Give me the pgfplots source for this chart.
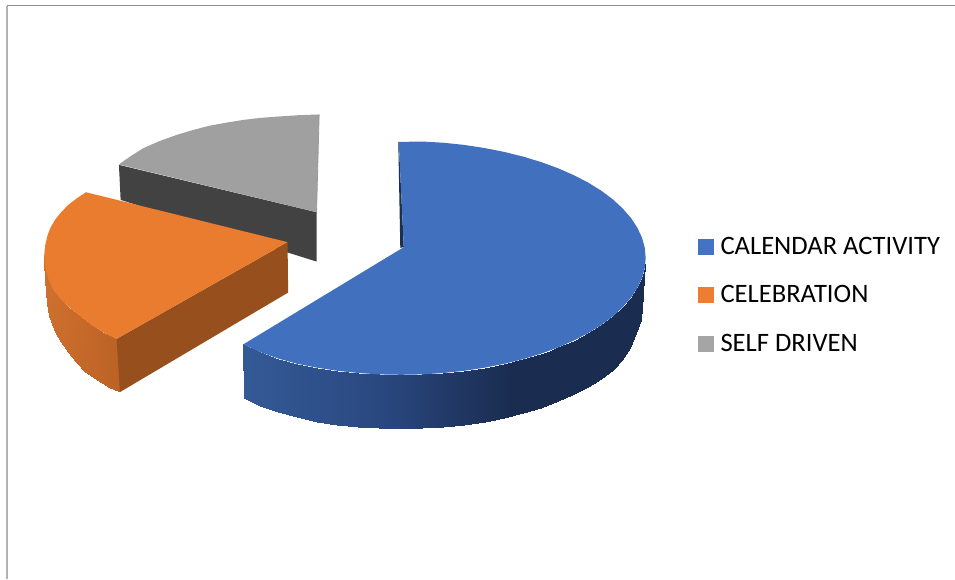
\documentclass[border=0pt]{standalone}
\usepackage{pgfplots}
\pgfplotsset{compat=1.18}
\usepackage{fontspec}
\setmainfont{Carlito}
\definecolor{blueT}{HTML}{4170BF}
\definecolor{orangeT}{HTML}{EA7C30}
\definecolor{grayT}{HTML}{A0A0A0}
\definecolor{grayD}{HTML}{424242}
\definecolor{orangeD}{HTML}{964F1D}
\definecolor{blueD}{HTML}{1B3050}
\definecolor{legB}{HTML}{4472C4}
\definecolor{legO}{HTML}{ED7D31}
\definecolor{legG}{HTML}{A5A5A5}
\begin{document}
\begin{tikzpicture}
\begin{axis}[
  scale only axis, width=955pt, height=579pt,
  xmin=0, xmax=955, ymin=0, ymax=579, y dir=reverse,
  hide axis, clip=false,
  point meta min=0, point meta max=1200,
  colormap={pie}{rgb255(0pt)=(52,90,150); rgb255(244pt)=(52,90,150); rgb255(380pt)=(42,72,128); rgb255(513pt)=(26,44,80); rgb255(646pt)=(26,44,80); rgb255(1000pt)=(206,112,46); rgb255(1045pt)=(206,112,46); rgb255(1120pt)=(188,98,38); rgb255(1200pt)=(188,98,38)},
  legend cell align=left,
  legend image code/.code={\fill[#1] (0pt,-7.5pt) rectangle (15pt,7.5pt);},
  legend style={at={(axis cs:698,237)}, anchor=north west, draw=none, fill=none,
    font=\fontsize{26.6}{30}\selectfont, row sep=30pt, inner sep=0pt, outer sep=0pt,
    /tikz/every even column/.append style={column sep=0pt},
    /tikz/every odd column/.append style={column sep=7.5pt},
    nodes={inner sep=0pt, anchor=west}},
]
\path (axis cs:0,0) rectangle (axis cs:955,579);
% frame
\addplot[forget plot, draw=black!45, line width=1pt] coordinates {(7,6) (955,6)};
\addplot[forget plot, draw=black!30, line width=2pt] coordinates {(7,6) (7,579)};
% grey slice
\addplot[forget plot, fill=grayD, draw=none] coordinates {(119,165) (316.7,212.3) (316.7,261.7) (120.7,200)} --cycle;
\addplot[forget plot, fill=grayT, draw=none] coordinates {(119,164.5) (130,156.7) (143.3,148.3) (160,141) (176.7,135) (193.3,130) (210,125.7) (226.7,122.7) (243.3,120) (260,118) (276.7,116.7) (298.3,115.3) (319.3,114.5) (316.7,212.3)} --cycle;
\addplot[forget plot, draw=black!40, line width=0.8pt] coordinates {(319.3,114.7) (316.7,212.3)};
% orange slice
\addplot[forget plot, surf, shader=interp, mesh/rows=13, mesh/cols=2, point meta=explicit] table[meta=c] {
x y c
44.3 255 1045
44.5 262 1045
45 263 1045
45.3 280 1045
46 271.7 1046
46 292 1046
49 281 1048
47.3 303 1048
53.3 290 1052
49.5 316 1052
60 298.5 1058
55 332 1058
68.3 306.7 1065
61 342 1065
76.5 313.5 1072
68.3 351.7 1072
85 320 1081
76.5 362 1081
93 326 1089
85 371.7 1089
101.7 331.7 1100
101.7 383.3 1100
109 335.5 1109
110.5 388 1109
116.7 339 1118
120 392.3 1120
};
\addplot[forget plot, fill=orangeD, draw=none] coordinates {(116.7,339) (287.7,242.3) (288.3,292.7) (120,392.3)} --cycle;
\addplot[forget plot, fill=orangeT, draw=none] coordinates {(86,192.3) (77,198.3) (68.3,205) (61,212.5) (55,220) (50.7,227.5) (47.7,235) (45.3,245) (44.3,255) (45,263) (46,271.7) (49,281) (53.3,290) (60,298.5) (68.3,306.7) (76.5,313.5) (85,320) (93,326) (101.7,331.7) (109,335.5) (116.7,339) (287.7,242.3)} --cycle;
% blue slice
\addplot[forget plot, fill=blueD, draw=none] coordinates {(398.5,142) (400.5,248) (404,247.3) (399,142)} --cycle;
\addplot[forget plot, surf, shader=interp, mesh/rows=28, mesh/cols=2, point meta=explicit] table[meta=c] {
x y c
646 258 646
646 262 646
645.1 268.2 645
644.5 275 645
642.3 278.3 642
643.2 295 642
637.6 288.3 638
641.7 320 638
631.2 298 631
636.7 333 631
623 307.4 623
630 348 623
613.2 316.5 613
622 360 613
601.7 325.1 602
613.3 370 602
588.7 333.2 589
601.7 379.1 589
574.2 340.7 574
588.7 387.2 574
558.5 347.6 558
572 395 558
550 351 550
558.5 401.6 550
541.5 353.8 542
541.5 407.8 542
523.5 359.3 524
523.5 413.3 524
504.5 364 505
504.5 418 505
484.8 367.9 485
484.8 421.9 485
464.4 371 464
464.4 425 464
443.5 373.2 444
443.5 427.2 444
422.4 374.6 422
422.4 428.6 422
401 375 401
401 429 401
379.6 374.6 380
379.6 428.6 380
358.5 373.2 358
358.5 427.2 358
337.6 371 338
337.6 425 338
317.2 367.9 317
317.2 421.9 317
297.5 364 298
297.5 417.5 298
278.5 358.8 278
278.5 412 278
260.5 352.3 260
260.5 405.8 260
243.5 344.5 244
244 398 244
};
\addplot[forget plot, fill=blueT, draw=none] coordinates {(399,142) (422.4,141.6) (443.5,142.8) (464.4,145) (484.8,148.1) (504.5,152) (523.5,156.7) (541.5,162.2) (558.5,168.4) (574.2,175.3) (588.7,182.8) (601.7,190.9) (613.2,199.5) (623,208.6) (631.2,218) (637.6,227.7) (642.3,237.7) (645.1,247.8) (646,258) (645.1,268.2) (642.3,278.3) (637.6,288.3) (631.2,298) (623,307.4) (613.2,316.5) (601.7,325.1) (588.7,333.2) (574.2,340.7) (558.5,347.6) (541.5,353.8) (523.5,359.3) (504.5,364) (484.8,367.9) (464.4,371) (443.5,373.2) (422.4,374.6) (401,375) (379.6,374.6) (358.5,373.2) (337.6,371) (317.2,367.9) (297.5,364) (278.5,358.8) (260.5,352.3) (243.5,344.5) (404,247.3)} --cycle;
% legend
\addlegendimage{legB}\addlegendentry{CALENDAR ACTIVITY}
\addlegendimage{legO}\addlegendentry{CELEBRATION}
\addlegendimage{legG}\addlegendentry{SELF DRIVEN}
\end{axis}
\end{tikzpicture}
\end{document}
